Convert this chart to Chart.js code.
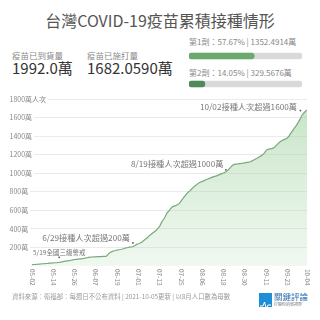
<!DOCTYPE html>
<html><head><meta charset="utf-8">
<script src="https://cdn.jsdelivr.net/npm/chart.js@4/dist/chart.umd.min.js"></script>
<style>
html,body{margin:0;padding:0;background:#fff;}
body{width:320px;height:320px;position:relative;overflow:hidden;font-family:"Noto Sans CJK TC","Noto Sans",sans-serif;}
.abs{position:absolute;white-space:nowrap;}
canvas{position:absolute;}
</style></head><body>
<div class="abs" style="left:0;width:320px;top:10px;text-align:center;font-size:16px;line-height:20px;color:#555;">台灣COVID-19疫苗累積接種情形</div>
<div class="abs" id="s1l" style="left:12px;top:50px;font-size:8.5px;line-height:10px;color:#888;"></div>
<div class="abs" id="s1v" style="left:12px;top:59px;font-size:15px;line-height:18px;color:#333;"></div>
<div class="abs" id="s2l" style="left:87px;top:50px;font-size:8.5px;line-height:10px;color:#888;"></div>
<div class="abs" id="s2v" style="left:87px;top:59px;font-size:15px;line-height:18px;color:#333;"></div>
<div class="abs" id="d1" style="left:189px;top:37px;font-size:8px;line-height:10px;color:#888;"></div>
<div class="abs" id="d2" style="left:189px;top:68px;font-size:8px;line-height:10px;color:#888;"></div>
<canvas id="bars" width="113" height="56" style="left:189px;top:42px;"></canvas>
<canvas id="main" width="320" height="200" style="left:0;top:88px;"></canvas>
<div class="abs" id="foot" style="left:12px;top:293px;font-size:6.4px;line-height:8px;color:#999;"></div>
<div class="abs" style="left:259px;top:293px;width:13px;height:14px;background:#1e8fd6;">
<svg width="13" height="14" viewBox="0 0 13 14"><polyline points="1,8 4,8 5.5,4 7.5,11 9,7 12,7" fill="none" stroke="#fff" stroke-width="1"/></svg></div>
<div class="abs" style="left:274px;top:291px;font-size:8.5px;line-height:10px;color:#2c6db0;">關鍵評論</div>
<div class="abs" style="left:274px;top:302px;font-size:4px;line-height:5px;color:#777;">打開你的新視界</div>
<script>
// ---- data ----
const statLabels = ['疫苗已到貨量', '疫苗已施打量'];
const statValues = ['1992.0萬', '1682.0590萬'];
const doseNames = ['第1劑', '第2劑'];
const dosePct = [57.67, 14.05];
const doseCount = ['1352.4914萬', '329.5676萬'];
const tickDays = [0, 12, 24, 36, 48, 60, 72, 84, 96, 108, 120, 132, 144, 155];
const tickLabels = ['05-02','05-14','05-26','06-07','06-19','07-01','07-13','07-25','08-06','08-18','08-30','09-11','09-23','10-04'];
const yTicks = [0, 200, 400, 600, 800, 1000, 1200, 1400, 1600, 1800];
// cumulative doses (萬), one value per day from 05-02 to 10-04
const doses = [
 15,16,17,19,21,22,24,25,27,28,30,32,33,35,36,38,41,45,49,53,
 56,58,62,66,70,72,74,76,77,81,85,89,92,95,97,98,99,100,101,102,
 103,104,105,128,146,155,162,167,172,175,178,183,189,195,199,204,206,210,222,233,
 240,248,258,275,290,305,325,340,355,370,385,405,430,470,498,530,570,590,615,635,
 645,650,660,675,700,725,750,775,795,810,830,850,865,880,895,905,912,920,930,938,
 945,952,960,966,972,980,988,995,1002,1012,1025,1045,1065,1085,1095,1098,1100,1103,1106,1108,
 1112,1116,1120,1124,1133,1143,1153,1163,1175,1187,1198,1220,1245,1258,1263,1266,1270,1285,1305,1325,
 1341,1352,1362,1372,1380,1405,1435,1462,1490,1515,1545,1580,1620,1645,1665,1682
];
const annDays = [17, 58, 109, 153];
const annTexts = ['5/19全國三級警戒', '6/29接種人次超過200萬', '8/19接種人次超過1000萬', '10/02接種人次超過1600萬'];

// ---- header text ----
document.getElementById('s1l').textContent = statLabels[0];
document.getElementById('s2l').textContent = statLabels[1];
document.getElementById('s1v').textContent = statValues[0];
document.getElementById('s2v').textContent = statValues[1];
document.getElementById('d1').textContent = doseNames[0] + '：' + dosePct[0].toFixed(2) + '% | ' + doseCount[0];
document.getElementById('d2').textContent = doseNames[1] + '：' + dosePct[1].toFixed(2) + '% | ' + doseCount[1];
document.getElementById('foot').textContent = '資料來源：衛福部：每週日不公布資料 | 2021-10-05更新 | 以8月人口數為母數';

const FONT = '"Noto Sans CJK TC","Noto Sans",sans-serif';
Chart.defaults.font.family = FONT;

// ---- progress bars ----
new Chart(document.getElementById('bars'), {
  type: 'bar',
  data: {
    labels: doseNames,
    datasets: [
      { data: dosePct, backgroundColor: ['#6aaa6e', '#4f8a5b'], barThickness: 6, borderRadius: 3, borderSkipped: false, grouped: false, order: 0 },
      { data: doseNames.map(() => 100), backgroundColor: '#d9d9d9', barThickness: 6, borderRadius: 3, borderSkipped: false, grouped: false, order: 1 }
    ]
  },
  options: {
    indexAxis: 'y', responsive: false, animation: false, devicePixelRatio: 1,
    layout: { padding: 0 },
    plugins: { legend: { display: false }, tooltip: { enabled: false } },
    scales: { x: { display: false, min: 0, max: 100 }, y: { display: false } }
  }
});

// ---- main chart ----
const pts = doses.map((v, i) => ({ x: i, y: v }));
const overlay = {
  id: 'overlay',
  afterDraw(chart) {
    const c = chart.ctx, xs = chart.scales.x, ys = chart.scales.y;
    c.save();
    // x tick labels, rotated clockwise
    c.fillStyle = '#888';
    c.font = '6.5px ' + FONT;
    c.textAlign = 'left'; c.textBaseline = 'middle';
    tickDays.forEach((d, i) => {
      c.save();
      c.translate(xs.getPixelForValue(d), xs.top + 3);
      c.rotate(Math.PI / 2);
      c.fillText(tickLabels[i], 0, 0);
      c.restore();
    });
    // annotations
    const offs = [
      { dx: -3, dy: -9.5, ax: 'center', size: 6.5, px: -3, py: -4.5 },
      { dx: -5, dy: -8, ax: 'right', size: 8.2, px: -2, py: -2.5 },
      { dx: -2, dy: -8.5, ax: 'right', size: 8.2, px: 0.5, py: -2.3 },
      { dx: -6.5, dy: -6, ax: 'right', size: 8.2, px: -3, py: -2.8 }
    ];
    annDays.forEach((d, i) => {
      const o = offs[i];
      const x = xs.getPixelForValue(d), y = ys.getPixelForValue(doses[d]);
      c.fillStyle = '#777';
      c.font = o.size + 'px ' + FONT;
      c.textAlign = o.ax; c.textBaseline = 'middle';
      c.fillText(annTexts[i], x + o.dx, y + o.dy);
      c.fillStyle = '#555';
      c.beginPath(); c.arc(x + o.px, y + o.py, 0.9, 0, Math.PI * 2); c.fill();
    });
    c.restore();
  }
};

new Chart(document.getElementById('main'), {
  type: 'line',
  data: {
    datasets: [{
      data: pts,
      borderColor: '#78a97d',
      borderWidth: 1.2,
      pointRadius: 0,
      tension: 0,
      fill: 'origin',
      backgroundColor: (ctx) => {
        const ch = ctx.chart, ca = ch.chartArea;
        if (!ca) return 'rgba(170,215,170,0.4)';
        const g = ch.ctx.createLinearGradient(0, ca.top, 0, ca.bottom);
        g.addColorStop(0, 'rgba(150,205,150,0.55)');
        g.addColorStop(1, 'rgba(170,215,170,0.18)');
        return g;
      }
    }]
  },
  options: {
    responsive: false, animation: false, devicePixelRatio: 1,
    layout: { padding: { left: 8, right: 13, top: 11, bottom: 0 } },
    plugins: { legend: { display: false }, tooltip: { enabled: false } },
    scales: {
      x: {
        type: 'linear', min: -13.55, max: 155,
        afterBuildTicks: (s) => { s.ticks = tickDays.map(v => ({ value: v })); },
        afterFit: (s) => { s.height = 22; },
        grid: { display: false }, border: { display: false },
        ticks: { color: 'rgba(0,0,0,0)', minRotation: 90, maxRotation: 90, autoSkip: false, font: { size: 6.5 } }
      },
      y: {
        min: 0, max: 1800,
        afterBuildTicks: (s) => { s.ticks = yTicks.map(v => ({ value: v })); },
        afterFit: (s) => { s.width = 0; },
        grid: { color: (ctx) => ctx.tick && ctx.tick.value === 0 ? 'rgba(0,0,0,0)' : '#ebebeb', drawTicks: false, lineWidth: 1 },
        border: { display: false },
        ticks: {
          mirror: true, padding: 1.5, color: '#888', font: { size: 7 },
          showLabelBackdrop: true, backdropColor: '#fff', backdropPadding: { left: 1, right: 2, top: 0, bottom: 0 },
          callback: (v) => v === 0 ? '' : (v === 1800 ? v + '萬人次' : v + '萬')
        }
      }
    }
  },
  plugins: [overlay]
});
</script>
</body></html>
